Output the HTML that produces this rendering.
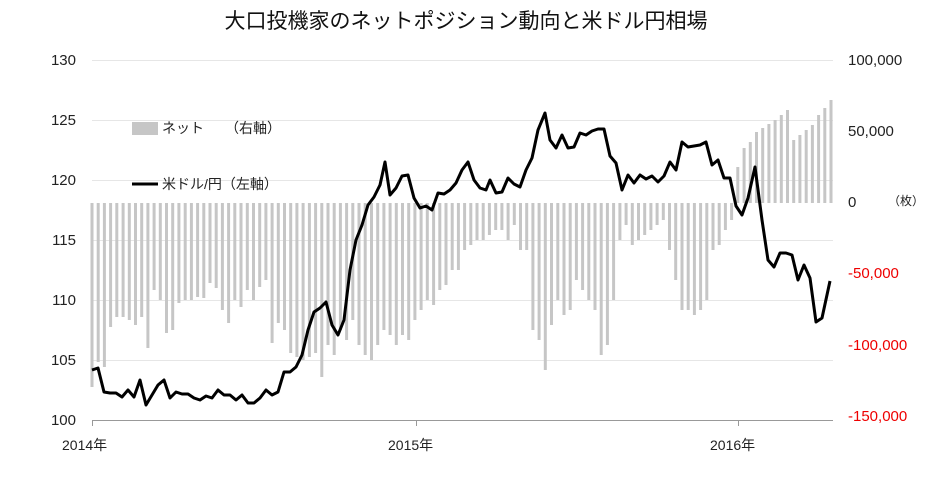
<!DOCTYPE html>
<html><head><meta charset="utf-8"><style>
body{margin:0;background:#fff;width:932px;height:480px;overflow:hidden;font-family:"Liberation Sans","Noto Sans CJK JP",sans-serif}
</style></head><body>
<svg id="s" width="932" height="480" xmlns="http://www.w3.org/2000/svg" font-family="Liberation Sans, Noto Sans CJK JP, sans-serif">
<text x="466" y="28" font-size="21" text-anchor="middle" fill="#111">大口投機家のネットポジション動向と米ドル円相場</text>
<g stroke="#e6e6e6" stroke-width="1">
<line x1="92" x2="833" y1="60.5" y2="60.5"/><line x1="92" x2="833" y1="120.5" y2="120.5"/><line x1="92" x2="833" y1="180.5" y2="180.5"/><line x1="92" x2="833" y1="240.5" y2="240.5"/><line x1="92" x2="833" y1="300.5" y2="300.5"/><line x1="92" x2="833" y1="360.5" y2="360.5"/>
</g>
<g id="bars" fill="#c6c6c6"></g>
<line x1="92" x2="833" y1="420.5" y2="420.5" stroke="#999"/>
<line x1="92.5" x2="92.5" y1="420" y2="426" stroke="#999"/><line x1="416.5" x2="416.5" y1="420" y2="426" stroke="#999"/><line x1="738.5" x2="738.5" y1="420" y2="426" stroke="#999"/>
<polyline fill="none" stroke="#000" stroke-width="3" stroke-linejoin="round" points="92,370 98,368 104,392 110,393 116,393 122,397 128,390 134,397 140,380 146,405 152,395 158,385 164,380 170,398 176,392 182,394 188,394 194,398 200,400 206,396 212,398 218,390 224,395 230,395 236,400 242,395 248,403 254,403 260,398 266,390 272,395 278,392 284,372 290,372 296,367 302,355 308,330 314,312 320,308 326,302 332,325 338,335 344,320 350,270 356,240 362,225 368,205 374,197 380,185 385,162 390,195 396,188 402,176 408,175 414,198 420,208 426,206 432,210 438,193 444,194 450,190 456,183 462,170 468,162 474,180 480,188 486,190 490,180 496,193 502,192 508,178 514,184 520,187 526,170 532,158 538,130 545,113 550,140 556,148 562,135 568,148 574,147 580,133 586,135 592,131 598,129 604,129 610,156 616,163 622,190 628,175 634,183 640,175 646,179 652,176 658,182 664,176 670,162 676,170 682,142 688,147 694,146 700,145 706,142 712,165 718,160 724,178 730,178 736,206 742,215 748,198 755,167 762,220 768,260 774,267 780,253 786,253 792,255 798,280 804,265 810,278 816,322 822,318 830,281"/>
<g font-size="15" fill="#222" text-anchor="end">
<text x="76" y="65">130</text><text x="76" y="125">125</text><text x="76" y="185">120</text><text x="76" y="245">115</text><text x="76" y="305">110</text><text x="76" y="365">105</text><text x="76" y="425">100</text>
</g>
<g font-size="15">
<text x="848" y="65" fill="#222">100,000</text><text x="848" y="136" fill="#222">50,000</text><text x="848" y="207" fill="#222">0</text>
<text x="848" y="278" fill="#e00">-50,000</text><text x="848" y="350" fill="#e00">-100,000</text><text x="848" y="421" fill="#e00">-150,000</text>
<text x="888" y="205" font-size="12" fill="#222">（枚）</text>
</g>
<g font-size="14" fill="#222">
<text x="62" y="450">2014年</text><text x="388" y="450">2015年</text><text x="710" y="450">2016年</text>
</g>
<rect x="132" y="122" width="26" height="13" fill="#c6c6c6"/>
<text x="162" y="133" font-size="14" fill="#222">ネット　　（右軸）</text>
<line x1="132" x2="158" y1="184" y2="184" stroke="#000" stroke-width="3"/>
<text x="162" y="189" font-size="14" fill="#222">米ドル/円（左軸）</text>
</svg>
<script>
var b=[387,362,367,327,317,317,320,325,317,348,290,300,333,330,303,300,300,297,298,283,288,310,323,300,307,290,300,287,280,343,323,330,353,357,360,357,353,377,345,355,330,340,320,345,355,360,345,330,335,345,335,340,320,310,300,305,290,285,270,270,250,245,240,240,235,230,230,240,225,250,250,330,340,370,325,300,315,310,280,290,300,310,355,345,300,240,225,245,240,235,230,225,220,250,280,310,310,315,310,300,250,245,230,220,167,148,142,132,128,124,120,115,110,140,135,130,125,115,108,100];
var g=document.getElementById('bars'),h='';
var n=b.length,step=(831-92)/(n-1);
for(var i=0;i<n;i++){var x=92+i*step-1.5,y=b[i],z=203;var t=Math.min(y,z),hh=Math.abs(y-z);h+='<rect x="'+x.toFixed(1)+'" y="'+t+'" width="3" height="'+hh+'"/>';}
g.innerHTML=h;
</script>
</body></html>
